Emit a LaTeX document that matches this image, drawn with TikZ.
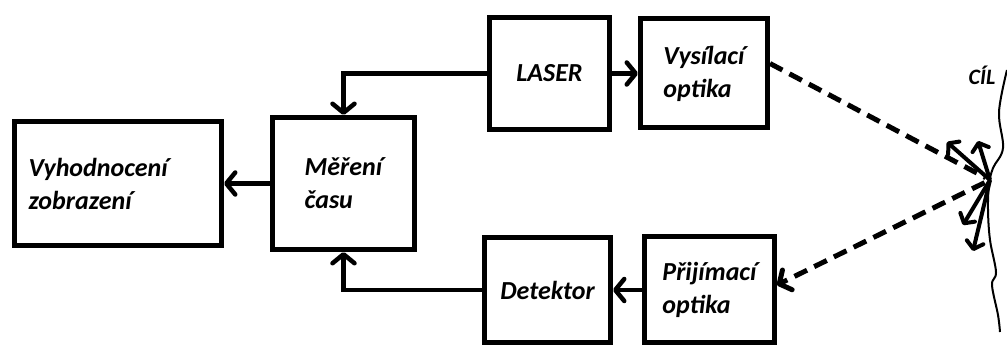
\documentclass[tikz,border=0pt]{standalone}
\usepackage{fontspec}
\setmainfont{Carlito}
\usetikzlibrary{arrows.meta,positioning}

\begin{document}
\begin{tikzpicture}[x=1pt,y=-1pt,
  blok/.style={draw,line width=5pt,align=left,inner sep=0pt,font=\bfseries\itshape\fontsize{26}{33}\selectfont},
  spoj/.style={line width=4.5pt,-{Straight Barb[length=9pt,width=22pt,round]}},
  paprsek/.style={line width=5pt,dash pattern=on 14pt off 8pt},
  odraz/.style={line width=4pt,-{Straight Barb[length=7pt,width=17pt,round]}}
]
\useasboundingbox (0,0) rectangle (1007,347);
\node[blok,minimum width=142pt,minimum height=132pt] (mer) at (343.5,183.5) {Měření\\času};
\node[blok,text width=179pt,inner xsep=14pt,minimum height=124pt,left=46pt of mer] (vyh) {Vyhodnocení\\zobrazení};
\node[blok,minimum width=120pt,minimum height=112pt] (laser) at (549.5,73.5) {LASER};
\node[blok,minimum width=127pt,minimum height=109pt,right=26pt of laser] (vys) {Vysílací\\optika};
\node[blok,minimum width=126pt,minimum height=105pt] (det) at (547.5,290) {Detektor};
\node[blok,minimum width=130pt,minimum height=106pt,right=29pt of det] (pri) {Přijímací\\optika};
% cil
\coordinate (bod) at (990,180);
\draw[line width=2pt] plot[smooth,tension=0.6] coordinates {(1007,70) (999,112) (1003,148) (993,168) (989,185) (988,210) (990,240) (996,272) (992,285) (998,315) (1000,332)};
\node[font=\bfseries\itshape\fontsize{22}{26}\selectfont] (cil) at (982,75) {CÍL};
% spoje
\draw[spoj] (laser.west) -| (mer.north);
\draw[spoj] (laser) -- (vys);
\draw[spoj] (mer.west) -- (mer.west -| vyh.east);
\draw[spoj] (det.west) -| (mer.south);
\draw[spoj] (pri) -- (det);
% paprsky
\draw[paprsek,shorten >=5pt] ([yshift=10pt]vys.east) -- (bod);
\draw[paprsek,shorten <=6pt,-{Straight Barb[length=9pt,width=22pt,round]}] (bod) -- ([yshift=5pt]pri.east);
\coordinate (o1) at (947,142);
\coordinate (o2) at (978,141);
\coordinate (o3) at (963,225);
\coordinate (o4) at (973,251);
\foreach \o in {o1,o2,o3,o4}
  \draw[odraz] (bod) -- (\o);
\end{tikzpicture}
\end{document}
